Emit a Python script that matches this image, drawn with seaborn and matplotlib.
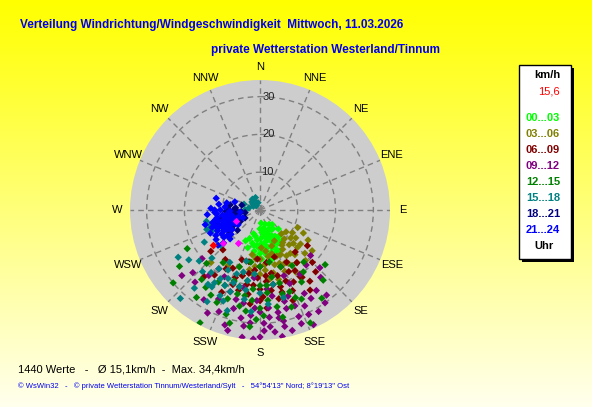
import numpy as np
import pandas as pd
import seaborn as sns
import matplotlib.pyplot as plt

# wind direction (deg, from north clockwise) and speed (km/h) per 3h window
dir_00 = [165, 170, 160, 175, 155, 168, 178, 150, 145, 140, 158, 172, 162, 185, 190, 195, 200, 182, 188, 205,
          148, 160, 175, 152, 166, 180, 170, 163, 157, 174, 193, 198, 143, 136, 155, 167, 178, 185, 150, 160,
          165, 172, 158, 150, 162, 178, 185, 170, 155, 145, 190, 180, 165, 175, 160]
spd_00 = [8, 7, 9, 6, 7.5, 10, 9, 8, 6, 5, 11, 12, 13, 8, 7, 6.5, 8, 10, 11, 9,
          4.5, 4, 3.5, 10, 5.5, 5, 8.5, 6.5, 9.5, 11, 9, 10.5, 8.5, 7, 12, 13.5, 13, 12.5, 6, 7,
          6, 9.5, 8, 9, 10.5, 7.5, 9.5, 5, 5.5, 10, 9.5, 11.5, 11.5, 10, 12]

dir_03 = [130, 122, 134, 145, 140, 128, 150, 155, 160, 135, 125, 118, 145, 165, 170, 175, 180, 185, 190, 158,
          138, 148, 132, 142, 152, 162, 172, 195, 200, 223, 210, 168, 128, 115, 138, 155, 178, 187, 150, 165,
          140, 150, 160, 170, 145, 155, 165, 175, 185, 135, 130, 180, 190, 195, 172]
spd_03 = [9, 15, 16.5, 10.5, 12, 12, 14, 13, 15, 14, 10.5, 13, 17, 12, 14, 16, 13, 15, 12, 17.5,
          18, 11, 11, 15, 16, 10, 11, 14, 16, 19, 17, 17, 17.5, 11, 8.5, 9, 10, 17, 19, 19,
          10, 12, 13, 12.5, 14, 15.5, 15, 14.5, 13, 12.5, 14, 17, 16, 18, 18.5]

dir_06 = [140, 127, 135, 149, 148, 148, 223, 160, 170, 180, 175, 165, 155, 185, 190, 195, 200, 210, 215, 205,
          178, 168, 158, 145, 138, 183, 192, 173, 163, 153, 200, 215, 230, 186, 176, 160, 145, 220, 172, 182,
          165, 175, 185, 195, 160, 170, 180, 190, 200, 155, 150, 180, 165, 205, 188]
spd_06 = [14.5, 15.7, 19.6, 20.6, 25, 21, 14.4, 16, 17, 15, 19, 21, 18, 20, 17, 22, 19, 18, 21, 24,
          23, 24, 23, 17, 22, 13, 14, 14, 13, 15.5, 14, 16, 17, 25, 26, 25.5, 23, 23, 21.5, 18,
          18, 17.5, 16, 18, 20, 20, 21, 20, 21, 21, 18.5, 24, 22.5, 17, 22.5]

dir_09 = [227, 222, 134, 142, 183, 180, 173, 197, 207, 165, 170, 175, 160, 155, 150, 168, 178, 185, 190, 195,
          200, 205, 212, 218, 162, 152, 145, 138, 188, 182, 172, 158, 148, 140, 192, 208, 215, 165, 155, 195,
          202, 175, 185, 160, 230, 230, 132, 145, 170, 188,
          165, 170, 175, 180, 160, 155, 185, 190, 178, 168, 160, 150, 175, 183, 195]
spd_09 = [24.3, 25.7, 22, 28.6, 34.2, 33.6, 32.5, 31.8, 30.6, 27, 29, 26, 30, 28, 31, 31.5, 30, 28, 25, 27,
          23, 26, 28, 22, 24, 25, 26, 24, 31, 24, 23, 21, 20, 19, 21, 20, 19, 33, 33.5, 33,
          29, 21, 18, 18.5, 20, 27, 18, 30, 34, 34,
          25, 27.5, 28.5, 27, 27, 30.5, 30, 29, 32, 30, 32, 27, 31, 26, 24.5]

dir_12 = [242, 208, 156, 145, 216, 130, 180, 175, 185, 190, 195, 200, 205, 210, 170, 165, 160, 155, 150, 145,
          140, 188, 178, 168, 198, 220, 225, 215, 180, 170, 190, 200, 160, 150, 235, 195, 185, 162, 138, 230,
          175, 185, 195, 205, 170, 180, 190, 200, 210, 165, 175, 182, 158, 192, 215]
spd_12 = [21.8, 33.8, 32.7, 28.5, 28.6, 22.5, 20, 22, 24, 19, 21, 25, 22, 26, 18, 20, 23, 26, 22, 20,
          18, 27, 28, 29, 29, 24, 20, 17, 15, 14, 14, 16, 16, 17, 26, 31, 31, 27, 25, 30,
          24, 21, 23, 27, 26, 26, 23, 20, 22, 23, 20, 29, 25, 26, 25]

dir_15 = [253, 248, 258, 245, 250, 222, 223, 212, 195, 200, 205, 210, 215, 200, 195, 190, 185, 190, 205, 215,
          225, 230, 235, 180, 175, 170, 185, 198, 210, 240, 240, 165, 228,
          315, 330, 340, 300, 280, 320, 345, 290, 270,
          200, 205, 210, 195, 190, 212, 218, 202, 220, 208, 250, 255, 246, 310, 325]
spd_15 = [13.8, 13, 14.5, 12.5, 15, 31.5, 22.3, 22.7, 14, 18, 20, 16, 19, 23, 21, 24, 17, 19, 25, 24,
          18, 21, 23, 22, 25, 20, 27, 28, 28, 17, 25, 24, 14,
          3, 2.5, 3.5, 2, 3, 1.5, 2, 4.5, 4,
          20.5, 22, 21, 17, 21.5, 24, 21, 26, 27, 18, 14, 13, 14, 2.5, 3.5]

dir_18 = [262, 255, 250, 265, 270, 245, 240, 258, 275, 235, 248, 280, 260, 268, 252, 242, 228, 285,
          255, 248, 262, 240, 250, 258, 244, 266, 272, 236]
spd_18 = [10, 6, 7.5, 5, 7, 9, 6, 8.5, 6.5, 10, 11, 8, 4, 9, 12, 4.5, 8, 5,
          8, 9, 7, 8, 10, 10.5, 7, 6, 8.5, 9]

dir_21 = [267, 275, 230, 264, 243, 240, 250, 255, 245, 238, 235, 248, 258, 262, 270, 272, 265, 255, 250, 240,
          232, 228, 245, 260, 278, 285, 282, 288, 252, 246, 236, 230, 255, 268, 242, 250, 260, 258, 236, 226,
          245, 248, 252, 240, 255, 262, 238, 244, 250, 258, 233, 265, 270, 242, 248]
spd_21 = [12, 9.3, 14.5, 5.3, 8.9, 10, 9, 10, 11, 12, 9, 7, 7.5, 9, 10.5, 13, 14, 13, 12.5, 13.5,
          11, 13, 14.5, 11.5, 11, 12, 9, 7, 6, 5, 7, 10, 15, 8, 9.5, 10.5, 8, 12, 14, 11,
          9, 10, 8, 11, 11.5, 10, 9.5, 12.5, 13.5, 9, 12, 11.5, 12, 7.5, 11.8]

dir_gust = [214, 228, 245]
spd_gust = [10.5, 13, 7]
dir_now = [233]
spd_now = [15.6]

periods = ['00...03', '03...06', '06...09', '09...12', '12...15', '15...18', '18...21', '21...24']
colors = ['#00FF00', '#808000', '#800000', '#800080', '#008000', '#008080', '#000080', '#0000FF']
compass = ['N', 'NNE', 'NE', 'ENE', 'E', 'ESE', 'SE', 'SSE',
           'S', 'SSW', 'SW', 'WSW', 'W', 'WNW', 'NW', 'NNW']
rings = [10, 20, 30]
r_max = 34.4

dirs = [dir_00, dir_03, dir_06, dir_09, dir_12, dir_15, dir_18, dir_21]
spds = [spd_00, spd_03, spd_06, spd_09, spd_12, spd_15, spd_18, spd_21]
rows = []
for p, d, s in zip(periods, dirs, spds):
    for a, v in zip(d, s):
        rows.append({'theta': np.deg2rad(a), 'speed': v, 'period': p})
df = pd.DataFrame(rows)

W, H = 592, 407
fig = plt.figure(figsize=(W / 100, H / 100), dpi=100)
plt.rcParams['font.family'] = ['Liberation Sans', 'DejaVu Sans']


def px(x, y):
    return x / W, 1 - y / H


# yellow -> pale background
bg = fig.add_axes([0, 0, 1, 1])
grad = np.ones((200, 2, 3))
grad[:, :, 2] = np.linspace(0, 0.93, 200)[:, None]
bg.imshow(grad, aspect='auto', extent=[0, 1, 0, 1])
bg.set_axis_off()

cx, cy, R = 260, 210, 130
ax = fig.add_axes([(cx - R) / W, (H - cy - R) / H, 2 * R / W, 2 * R / H], projection='polar')
ax.set_facecolor('#CDCDCD')
ax.set_theta_zero_location('N')
ax.set_theta_direction(-1)
ax.set_ylim(0, r_max)
ax.set_xticks(np.deg2rad(np.arange(0, 360, 22.5)))
ax.set_xticklabels([])
ax.set_yticks(rings)
ax.set_yticklabels([])
ax.grid(color='#808080', linestyle=(0, (4, 3)), linewidth=1)
ax.spines['polar'].set_visible(False)
ax.tick_params(length=0)

sns.scatterplot(data=df, x='theta', y='speed', hue='period', hue_order=periods,
                palette=dict(zip(periods, colors)), marker='D', s=14, linewidth=0,
                legend=False, ax=ax, zorder=3)
ax.scatter(np.deg2rad(dir_gust), spd_gust, marker='D', s=14, color='#FF00FF', linewidth=0, zorder=4)
ax.scatter(np.deg2rad(dir_now), spd_now, marker='D', s=16, color='#FF0000', linewidth=0, zorder=5)
ax.set_xlabel('')
ax.set_ylabel('')

for i, lab in enumerate(compass):
    ax.text(np.deg2rad(i * 22.5), 37.8, lab, ha='center', va='center', fontsize=8,
            color='black', clip_on=False)
for r in rings:
    ax.text(np.deg2rad(1.5), r, str(r), ha='left', va='center', fontsize=8, color='#202020')

blue = '#0000EE'
fig.text(*px(20, 25), 'Verteilung Windrichtung/Windgeschwindigkeit  Mittwoch, 11.03.2026',
         fontsize=8.5, fontweight='bold', color=blue, va='center')
fig.text(*px(211, 50), 'private Wetterstation Westerland/Tinnum',
         fontsize=8.5, fontweight='bold', color=blue, va='center')

# legend box with shadow
box_l, box_t, box_r, box_b = 519, 65, 571, 259
fig.patches.append(plt.Rectangle(px(box_l + 3, box_b + 3), (box_r - box_l) / W, (box_b - box_t) / H,
                                 transform=fig.transFigure, facecolor='black', edgecolor='none'))
fig.patches.append(plt.Rectangle(px(box_l, box_b), (box_r - box_l) / W, (box_b - box_t) / H,
                                 transform=fig.transFigure, facecolor='white', edgecolor='black', linewidth=1))
fig.text(*px(547, 75), 'km/h', fontsize=8, fontweight='bold', ha='center', va='center')
fig.text(*px(549, 92), '15,6', fontsize=8, color='#FF0000', ha='center', va='center')
for i, (p, c) in enumerate(zip(periods, colors)):
    fig.text(*px(543, 118 + i * 16), p, fontsize=8, fontweight='bold', color=c, ha='center', va='center')
fig.text(*px(544, 246), 'Uhr', fontsize=8, fontweight='bold', ha='center', va='center')

fig.text(*px(18, 369), '1440 Werte   -   \u00d8 15,1km/h  -  Max. 34,4km/h', fontsize=8, va='center')
fig.text(*px(18, 386), "\u00a9 WsWin32   -   \u00a9 private Wetterstation Tinnum/Westerland/Sylt   -   "
         "54\u00b054'13'' Nord; 8\u00b019'13'' Ost", fontsize=5.5, color=blue, va='center')

fig.savefig('out.png', dpi=100)
